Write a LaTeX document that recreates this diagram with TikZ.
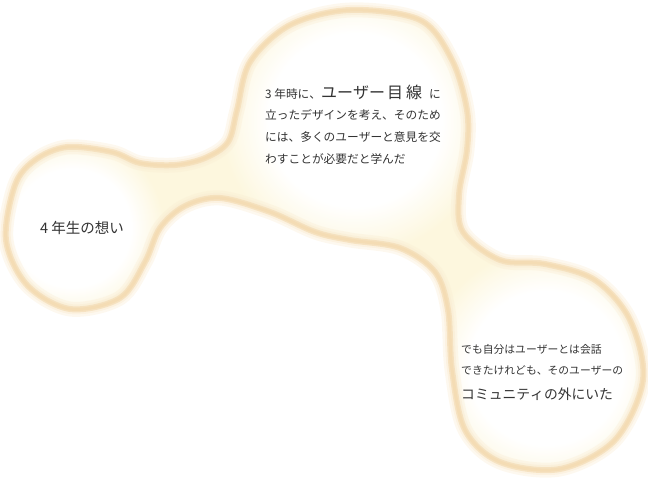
\documentclass[tikz,border=0pt]{standalone}
\usepackage{fontspec}
\setmainfont{Noto Sans CJK JP}[Kerning=Off]
\usepackage{pgfplots}
\pgfplotsset{compat=newest}
\usetikzlibrary{calc}

\definecolor{rimcolor}{RGB}{244,220,180}
\definecolor{glowcolor}{RGB}{250,236,210}
\definecolor{creamcolor}{RGB}{253,247,222}
\definecolor{inkcolor}{RGB}{51,51,51}
\pgfdeclareradialshading{blobshade}{\pgfpoint{0bp}{0bp}}{color(0bp)=(white); color(16bp)=(white); color(25bp)=(creamcolor); color(50bp)=(creamcolor)}

% outline of the three joined bubbles, in pixels
\def\bubbleline{plot[smooth cycle, tension=0.55] coordinates {
        (67,147) (112,152) (140,163) (175,165) (205,158) (228,142) (237,110) (250,62)
        (290,25) (350,10) (420,20) (452,60) (467,110) (467,150) (459,195) (463,232)
        (500,260) (545,264) (595,280) (630,320) (643,380) (615,440) (560,469) (500,462)
        (465,430) (452,370) (448,310) (435,272) (400,248) (350,240) (315,232) (270,212)
        (220,198) (185,206) (160,228) (145,262) (120,298) (70,309) (27,285) (6,240)
        (15,185) (35,160)}}

\tikzset{
    bubbletext/.style={anchor=base west, inner sep=0pt, text=inkcolor},
    toptext/.style={bubbletext, font=\fontsize{11.7pt}{14pt}\selectfont},
    lowtext/.style={bubbletext, font=\fontsize{10.8pt}{13pt}\selectfont},
    lefttext/.style={bubbletext, font=\fontsize{14.5pt}{16pt}\selectfont}
}

\begin{document}
\begin{tikzpicture}[x=1pt,y=-1pt]
        \useasboundingbox (0,0) rectangle (648,478);
        \fill[creamcolor] \bubbleline;
        \begin{scope}
            \clip \bubbleline;
            \shade[shading=blobshade] (72,228) circle (92);
            \shade[shading=blobshade] (355,120) circle (135);
            \shade[shading=blobshade] (546,368) circle (120);
        \end{scope}
        \draw[glowcolor, line width=15pt, opacity=0.35] \bubbleline;
        \draw[glowcolor, line width=10pt, opacity=0.5] \bubbleline;
        \draw[rimcolor, line width=6pt, opacity=0.7] \bubbleline;
        \draw[rimcolor, line width=3pt] \bubbleline;

        \node[lefttext] (fourth) at (40,234) {4 年生の想い};

        \node[toptext] (thirdA) at (265,99) {3 年時に、{\fontsize{16pt}{18pt}\selectfont ユーザー\hspace{2pt}目\hspace{3pt}線}\hspace{7pt}に};
        \node[toptext] (thirdB) at (265,120) {立ったデザインを考え、そのため};
        \node[toptext] (thirdC) at (265,142) {には、多くのユーザーと意見を交};
        \node[toptext] (thirdD) at (265,164) {わすことが必要だと学んだ};

        \node[lowtext] (outA) at (461,353) {でも自分はユーザーとは会話};
        \node[lowtext] (outB) at (461,374) {できたけれども、そのユーザーの};
        \node[lowtext, font=\fontsize{13.8pt}{16pt}\selectfont] (outC) at (461,399) {コミュニティの外にいた};
    \end{tikzpicture}
\end{document}
